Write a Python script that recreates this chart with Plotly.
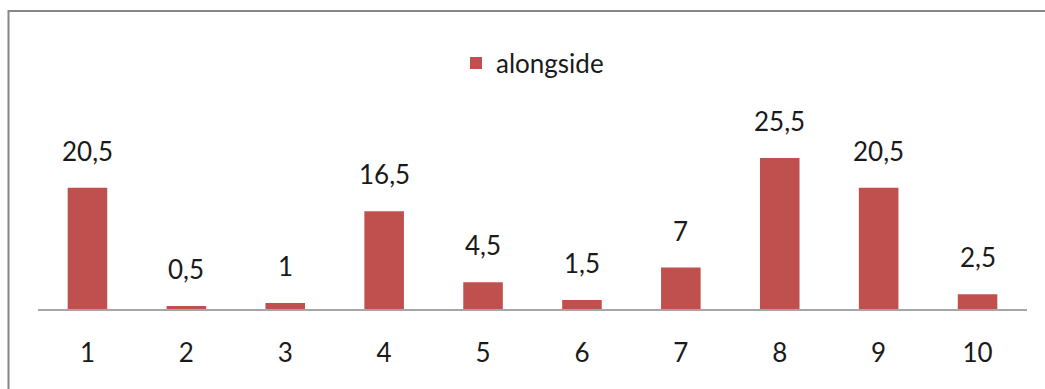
import plotly.graph_objects as go

categories = ["1", "2", "3", "4", "5", "6", "7", "8", "9", "10"]
values = [20.5, 0.5, 1, 16.5, 4.5, 1.5, 7, 25.5, 20.5, 2.5]
value_labels = ["20,5", "0,5", "1", "16,5", "4,5", "1,5", "7", "25,5", "20,5", "2,5"]
series_name = "alongside"

FONT = "Lato, Noto Sans, sans-serif"
FS = 26
W, H = 1045, 389
L, R, T, B = 38, 18, 79, 80
plot_w = W - L - R
plot_h = H - T - B

pos = list(range(len(categories)))

fig = go.Figure()
fig.add_trace(go.Bar(
    x=pos, y=values, name=series_name,
    marker=dict(color="#C0504D", line=dict(width=0)),
    showlegend=True,
))

for p, v, t in zip(pos, values, value_labels):
    fig.add_annotation(x=p, y=v, text=t, showarrow=False,
                       xref="x", yref="y",
                       yanchor="bottom", yshift=19,
                       font=dict(family=FONT, size=FS, color="#1a1a1a"))

def px_to_paper_x(px):
    return (px - L) / plot_w

def px_to_paper_y(py):
    return (H - B - py) / plot_h

fig.add_shape(type="rect", xref="paper", yref="paper",
              x0=px_to_paper_x(8.5), x1=px_to_paper_x(1060),
              y0=px_to_paper_y(400), y1=px_to_paper_y(11),
              line=dict(color="#868686", width=2), fillcolor="rgba(0,0,0,0)",
              layer="above")

fig.update_layout(
    width=W, height=H,
    margin=dict(l=L, r=R, t=T, b=B, pad=0, autoexpand=False),
    paper_bgcolor="white", plot_bgcolor="white",
    bargap=0.6,
    font=dict(family=FONT, size=FS, color="#1a1a1a"),
    legend=dict(orientation="h", x=0.5, xanchor="center",
                y=px_to_paper_y(63), yanchor="middle",
                font=dict(family=FONT, size=FS, color="#1a1a1a"),
                itemwidth=30, bgcolor="rgba(0,0,0,0)"),
    xaxis=dict(range=[-0.5, len(categories) - 0.5],
               tickmode="array", tickvals=pos, ticktext=categories,
               showline=True, linecolor="#A6A6A6", linewidth=1.5,
               showgrid=False, zeroline=False, ticks="",
               ticklabelstandoff=20,
               tickfont=dict(family=FONT, size=FS, color="#1a1a1a")),
    yaxis=dict(range=[0, plot_h / 5.92], visible=False, showgrid=False,
               zeroline=False),
)

fig.write_html("out.html")
